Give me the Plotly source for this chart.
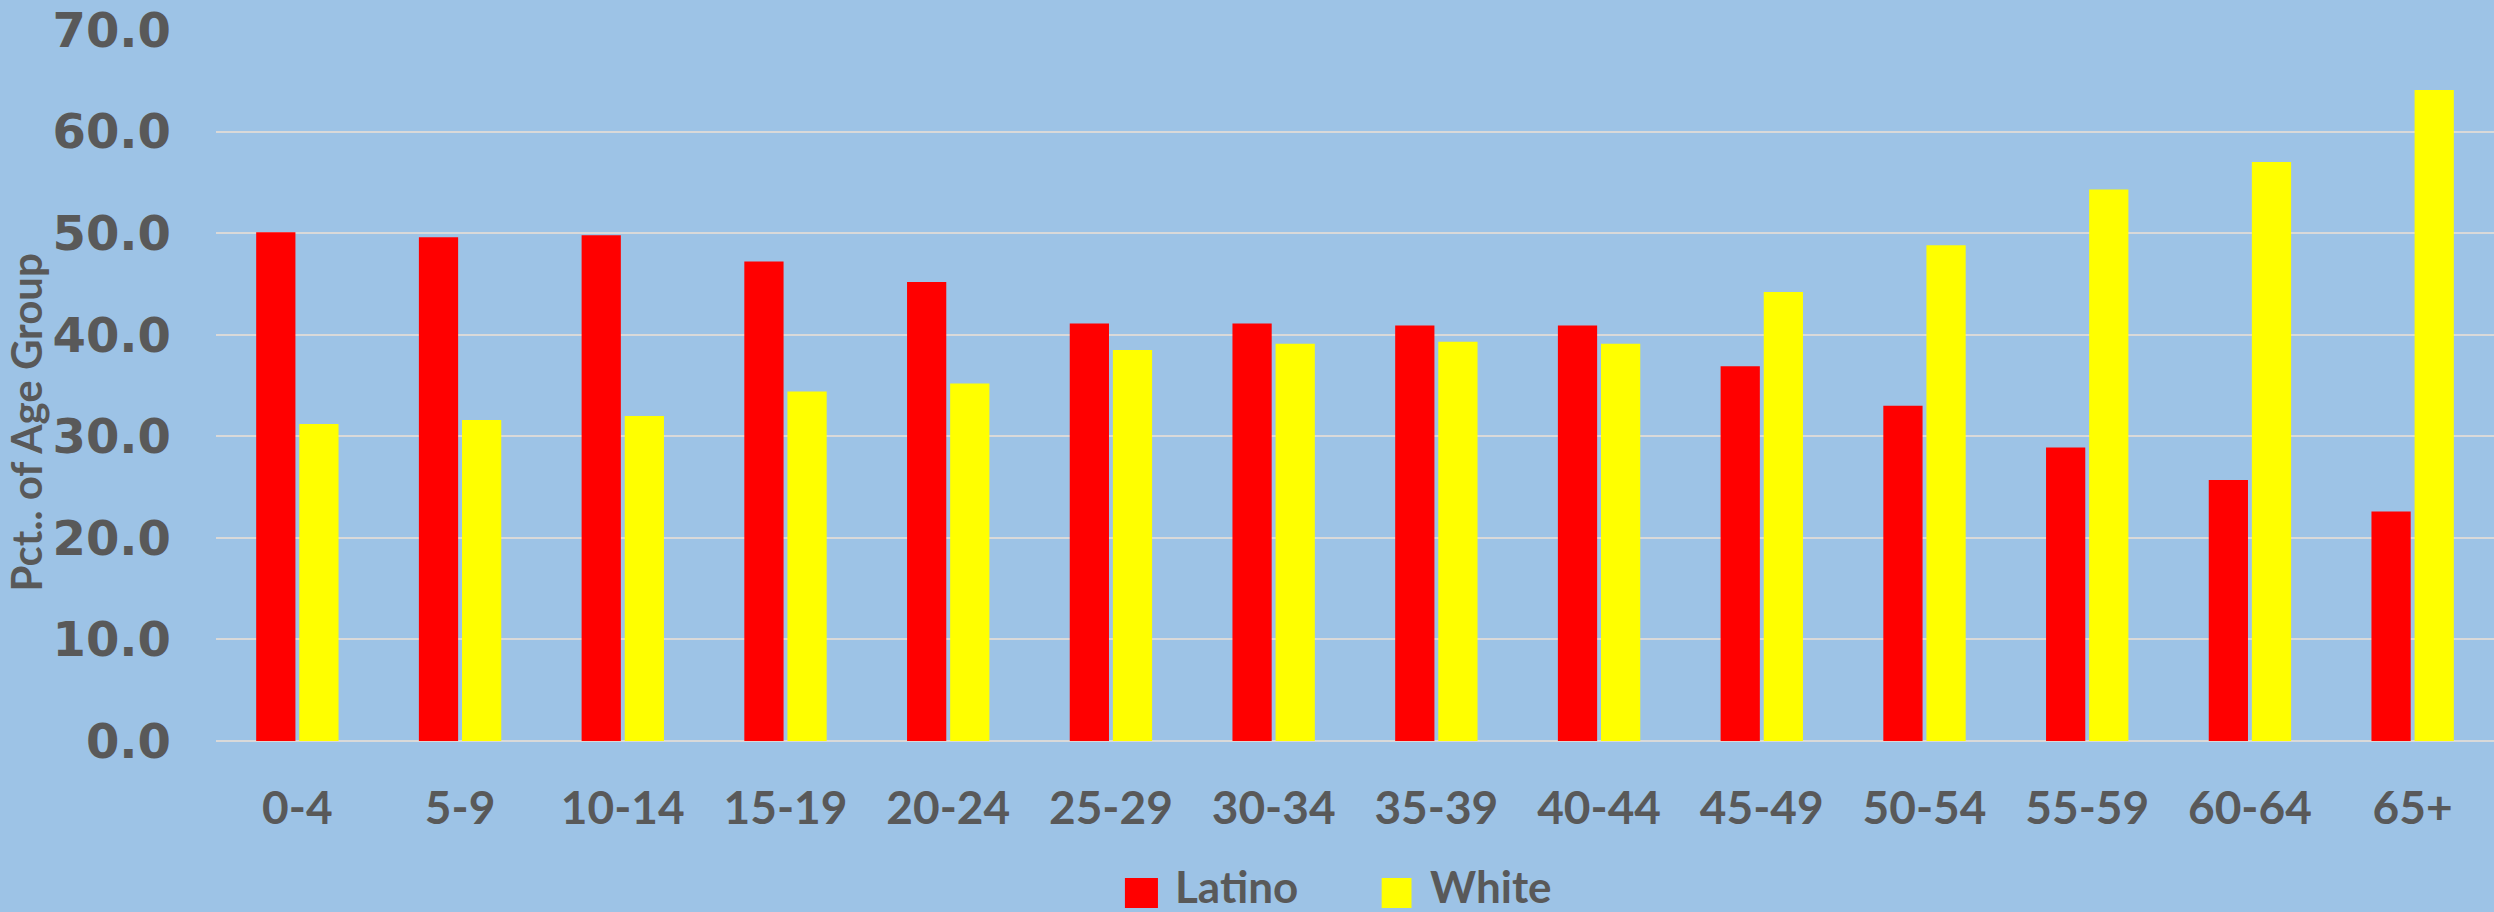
import plotly.graph_objects as go

categories = ["0-4", "5-9", "10-14", "15-19", "20-24", "25-29", "30-34",
              "35-39", "40-44", "45-49", "50-54", "55-59", "60-64", "65+"]
latino = [50.1, 49.6, 49.8, 47.2, 45.2, 41.1, 41.1, 40.9, 40.9, 36.9, 33.0, 28.9, 25.7, 22.6]
white = [31.2, 31.6, 32.0, 34.4, 35.2, 38.5, 39.1, 39.3, 39.1, 44.2, 48.8, 54.3, 57.0, 64.1]
series_names = ["Latino", "White"]
series_colors = ["#FF0000", "#FFFF00"]
y_ticks = [0, 10, 20, 30, 40, 50, 60, 70]
y_title = "Pct.. of Age Group"

FONT = "Lato"
YFONT = "DejaVu Sans"
TXT = "#595959"
BG = "#9DC3E6"

fig = go.Figure()
for name, vals, col in zip(series_names, [latino, white], series_colors):
    fig.add_trace(go.Bar(x=categories, y=vals, name=name, marker_color=col,
                         marker_line_width=0, showlegend=False))

fig.update_layout(
    width=2494, height=912,
    paper_bgcolor=BG, plot_bgcolor=BG,
    margin=dict(l=216, r=0, t=30, b=171, autoexpand=False),
    barmode="group", bargap=0.47, bargroupgap=0.09,
    font=dict(family=FONT, color=TXT, size=46),
)
fig.update_xaxes(
    type="category", showgrid=False, showline=False, zeroline=False,
    ticks="", tickfont=dict(family=FONT, size=46, color=TXT, weight="bold"),
    ticklabelstandoff=36,
)
fig.update_yaxes(
    range=[0, 70], tickvals=y_ticks, ticktext=[f"{v:.1f}" for v in y_ticks],
    showgrid=True, gridcolor="#D9D9D9", gridwidth=2,
    zeroline=True, zerolinecolor="#D9D9D9", zerolinewidth=2,
    showline=False, ticks="",
    tickfont=dict(family=YFONT, size=48, color=TXT, weight="bold"),
    ticklabelstandoff=44,
)

# y-axis title as rotated annotation
fig.add_annotation(xref="paper", yref="paper", x=-0.083, y=0.448, text=y_title,
                   textangle=-90, showarrow=False, xanchor="center", yanchor="middle",
                   font=dict(family=FONT, size=42, color=TXT, weight="bold"))

# legend drawn with shapes + text (paper coords)
leg_sq = [(0.399, 0.4135), (0.5117, 0.5248)]
leg_tx = [0.420, 0.5319]
for (x0, x1), tx, name, col in zip(leg_sq, leg_tx, series_names, series_colors):
    fig.add_shape(type="rect", xref="paper", yref="paper", x0=x0, x1=x1,
                  y0=-0.2349, y1=-0.1927, fillcolor=col, line_width=0)
    fig.add_annotation(xref="paper", yref="paper", x=tx, y=-0.2040, text=name,
                       showarrow=False, xanchor="left", yanchor="middle",
                       font=dict(family=FONT, size=44, color=TXT, weight="bold"))

fig.write_html("out.html", config={"displayModeBar": False},
               post_script="document.body.style.margin='0';document.body.style.overflow='hidden';")
